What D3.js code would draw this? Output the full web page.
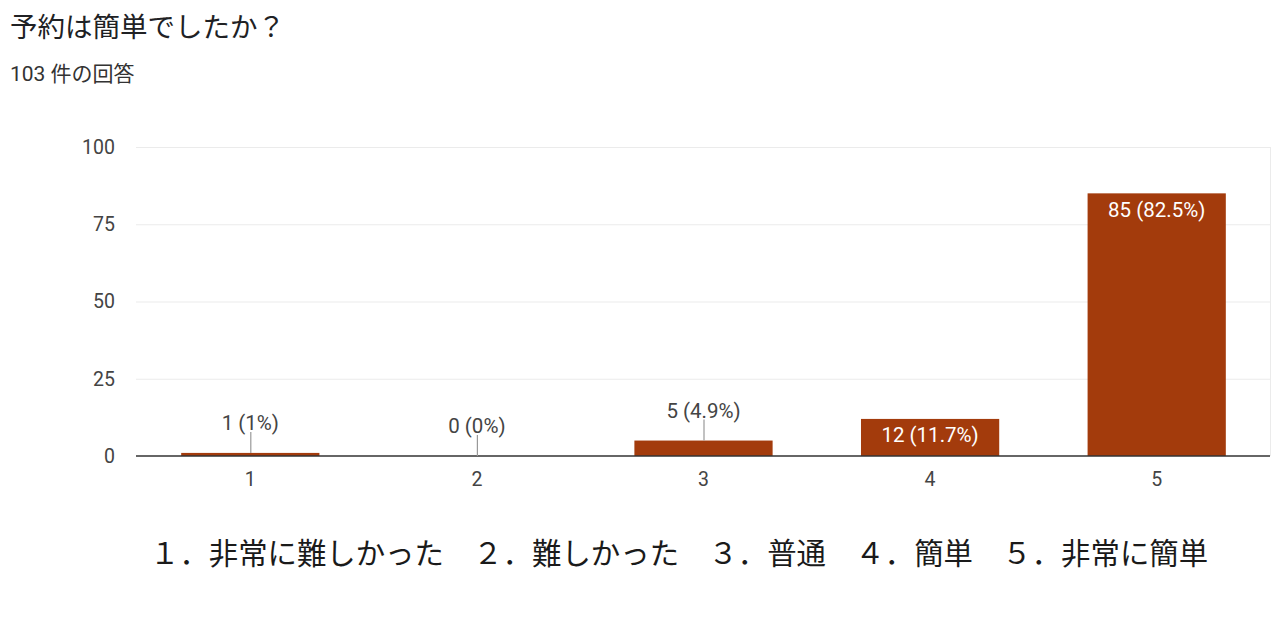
<!DOCTYPE html>
<html><head><meta charset="utf-8">
<script src="https://cdn.jsdelivr.net/npm/d3@7"></script>
<style>
body{margin:0;background:#fff;}
text{font-family:Roboto,Arial,"Noto Sans CJK JP",sans-serif;}
</style></head>
<body><svg id="c" width="1280" height="640"></svg>
<script>
const categories = ["1","2","3","4","5"];
const counts = [1,0,5,12,85];
const percents = ["1%","0%","4.9%","11.7%","82.5%"];
const yTicks = [0,25,50,75,100];
const legendItems = ["１．非常に難しかった","２．難しかった","３．普通","４．簡単","５．非常に簡単"];
const title = "予約は簡単でしたか？";
const subtitle = "103 件の回答";

const svg = d3.select("#c");
const m = {l:136, r:1270, t:147, b:456};
const x = d3.scaleBand().domain(categories).range([m.l+1, m.r]).paddingInner(0.39).paddingOuter(0.195);
const y = d3.scaleLinear().domain([0,100]).range([m.b, m.t]);
const barColor = "#a33b0c";

svg.append("text").attr("x",10).attr("y",37).attr("font-size",27.5).attr("fill","#202124")
  .style("font-family","'Noto Sans CJK JP',sans-serif").text(title);
svg.append("text").attr("x",10).attr("y",81).attr("font-size",21).attr("fill","#333")
  .style("font-family","Roboto,'Noto Sans CJK JP',sans-serif").text(subtitle);

// gridlines
svg.append("g").selectAll("line").data(yTicks.filter(d=>d>0)).join("line")
  .attr("x1",m.l).attr("x2",m.r).attr("y1",d=>y(d)+0.5).attr("y2",d=>y(d)+0.5)
  .attr("stroke","#ebebeb");
svg.append("line").attr("x1",m.r+0.5).attr("x2",m.r+0.5).attr("y1",m.t).attr("y2",m.b).attr("stroke","#ebebeb");

// y axis labels
const yAxis = d3.axisLeft(y).tickValues(yTicks).tickSize(0).tickPadding(21);
const yg = svg.append("g").attr("transform",`translate(${m.l},0)`).call(yAxis);
yg.select(".domain").remove();
yg.selectAll("text").attr("font-size",19.5).attr("fill","#444").style("font-family","Roboto,Arial,sans-serif");

// bars
svg.append("g").selectAll("rect").data(categories).join("rect")
  .attr("x",d=>x(d)).attr("width",x.bandwidth())
  .attr("y",(d,i)=>y(counts[i])).attr("height",(d,i)=>m.b-y(counts[i]))
  .attr("fill",barColor);

// baseline + x labels
const xAxis = d3.axisBottom(x).tickSize(0).tickPadding(16);
const xg = svg.append("g").attr("transform",`translate(0,${m.b})`).call(xAxis);
xg.select(".domain").attr("stroke","#333").attr("stroke-width",1.5).attr("d",`M${m.l},0H${m.r}`);
xg.selectAll("text").attr("font-size",19.5).attr("fill","#444").style("font-family","Roboto,Arial,sans-serif");

// value labels
const lab = svg.append("g");
categories.forEach((c,i)=>{
  const cx = x(c)+x.bandwidth()/2;
  const top = y(counts[i]);
  const txt = `${counts[i]} (${percents[i]})`;
  const inside = (m.b-top) > 30;
  if(inside){
    lab.append("text").attr("x",cx).attr("y",top+16).attr("dy","0.36em").attr("text-anchor","middle")
      .attr("font-size",20.5).attr("fill","#fff").text(txt);
  } else {
    lab.append("line").attr("x1",cx+0.5).attr("x2",cx+0.5).attr("y1",top).attr("y2",top-21)
      .attr("stroke","#999").attr("stroke-width",1.2);
    lab.append("text").attr("x",cx).attr("y",top-30).attr("dy","0.36em").attr("text-anchor","middle")
      .attr("font-size",20.5).attr("fill","#444").text(txt);
  }
});

// legend line
svg.append("text").attr("x",150).attr("y",564).attr("font-size",29.4).attr("fill","#1a1a1a")
  .style("font-family","'Noto Sans CJK JP',sans-serif")
  .text(legendItems.join("　"));
</script></body></html>
